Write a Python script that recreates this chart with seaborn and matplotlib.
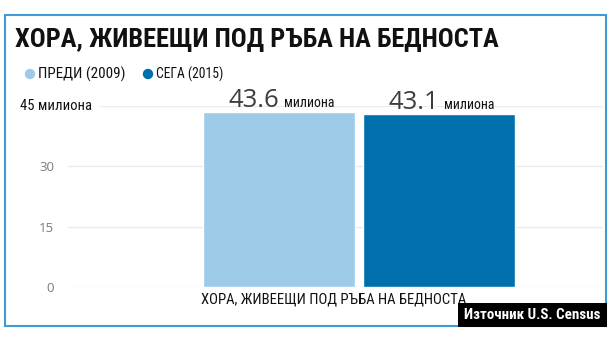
import matplotlib
matplotlib.use("Agg")
import matplotlib.pyplot as plt
import matplotlib.font_manager as fm
from matplotlib.patches import Rectangle, Ellipse
import seaborn as sns
import pandas as pd

# ---- data ----
title = "ХОРА, ЖИВЕЕЩИ ПОД РЪБА НА БЕДНОСТА"
category = ["ХОРА, ЖИВЕЕЩИ ПОД РЪБА НА БЕДНОСТА"]
series = ["ПРЕДИ (2009)", "СЕГА (2015)"]
values = [43.6, 43.1]
value_labels = ["43.6", "43.1"]
unit = "милиона"
yticks = [0, 15, 30]
ytick_labels = ["0", "15", "30"]
top_label = "45 милиона"
source = "Източник U.S. Census"

colors = ["#9dcbe8", "#0070ad"]

sns.set_theme(style="white")
entries = fm.fontManager.ttflist
names = {f.name for f in entries}
COND = None
for cand in ["Roboto Condensed", "Liberation Sans Narrow", "Open Sans Condensed",
             "Noto Sans Condensed", "DejaVu Sans Condensed"]:
    if cand in names:
        COND = dict(family=cand)
        break
if COND is None:
    for f in entries:
        if f.name in ("DejaVu Sans", "Noto Sans", "Open Sans", "Roboto") and \
                "condensed" in str(f.stretch).lower():
            COND = dict(family=f.name, stretch="condensed")
            break
if COND is None:
    COND = dict(family="Roboto" if "Roboto" in names else "DejaVu Sans")
LIGHT = "Open Sans" if "Open Sans" in names else "DejaVu Sans"

df = pd.DataFrame({"cat": category * 2, "series": series, "value": values})

W, H = 611, 343
fig = plt.figure(figsize=(W / 100, H / 100), dpi=100)
fig.patch.set_facecolor("white")
renderer = fig.canvas.get_renderer()


def px(x, y):
    return x / W, 1 - y / H


def fit(t, width):
    fs = t.get_fontsize()
    bb = t.get_window_extent(renderer)
    t.set_fontsize(fs * width / bb.width)
    return t


# axes: x 68..603 px, y 106..287 px
ax = fig.add_axes([68 / W, (H - 287) / H, (603 - 68) / W, (287 - 106) / H])
sns.barplot(data=df, x="cat", y="value", hue="series", palette=colors,
            width=0.8, gap=0.05, ax=ax, legend=False, saturation=1)
ax.set_xlim(-0.7275, 0.61)
ax.set_ylim(0, 45)
ax.set_xlabel("")
ax.set_ylabel("")
ax.set_xticks([])
for s in ax.spines.values():
    s.set_visible(False)
ax.set_yticks(yticks)
ax.set_yticklabels(ytick_labels, family=LIGHT, fontsize=9.5, color="#7a7a7a")
ax.tick_params(axis="y", length=0, pad=10)
for t in yticks:
    ax.axhline(t, color="#ececec", lw=1, zorder=0)
ax.axhline(45, xmin=(100 - 68) / 535, color="#ececec", lw=1, zorder=0)
ax.set_axisbelow(True)

# value labels
fig.canvas.draw()
bars = [p for p in ax.patches if p.get_height() > 0]
bars.sort(key=lambda p: p.get_x())
num_fs = None
for p, lab in zip(bars, value_labels):
    x0 = p.get_x()
    t = ax.annotate(lab, xy=(x0, p.get_height()), xytext=(25, 5),
                    textcoords="offset pixels", ha="left", va="baseline",
                    fontsize=18, family=LIGHT, color="#3d3d3d",
                    annotation_clip=False)
    if num_fs is None:
        fit(t, 51)
        num_fs = t.get_fontsize()
    else:
        t.set_fontsize(num_fs)
    fig.canvas.draw()
    bb = t.get_window_extent(renderer)
    u = ax.annotate(unit, xy=(x0, p.get_height()),
                    xytext=(25 + bb.width + 5, 5), textcoords="offset pixels",
                    ha="left", va="baseline", fontsize=10.5, color="#111111",
                    annotation_clip=False, **COND)
    fit(u, 51)

# top axis label
fit(fig.text(*px(20, 106), top_label, fontsize=10.5, color="#111111",
             ha="left", va="center", **COND), 72)

# category label
fit(fig.text(*px(201, 300), category[0], fontsize=11.5, color="#111111",
             ha="left", va="center", **COND), 266)

# title
fit(fig.text(*px(15, 40), title, fontsize=20, fontweight="bold", color="#111111",
             ha="left", va="center", **COND), 483)

# legend
for cx, col, lab, w in [(30, colors[0], series[0], 87), (148, colors[1], series[1], 67)]:
    fig.patches.append(Ellipse(px(cx, 74), 9 / W, 9 / H,
                               transform=fig.transFigure, color=col))
    fit(fig.text(*px(cx + 8, 74), lab, fontsize=10, color="#111111",
                 ha="left", va="center", **COND), w)

# frame
fig.patches.append(Rectangle(px(5, 326), 601 / W, 311 / H, transform=fig.transFigure,
                             fill=False, edgecolor="#3f9bd3", lw=1.5))
# source box
fig.patches.append(Rectangle(px(458, 327), 149 / W, 24 / H, transform=fig.transFigure,
                             facecolor="black", edgecolor="none", zorder=5))
fit(fig.text(*px(532, 315), source, fontsize=11.5, fontweight="bold", color="white",
             ha="center", va="center", zorder=6, **COND), 138)

fig.savefig("out.png", dpi=100)
